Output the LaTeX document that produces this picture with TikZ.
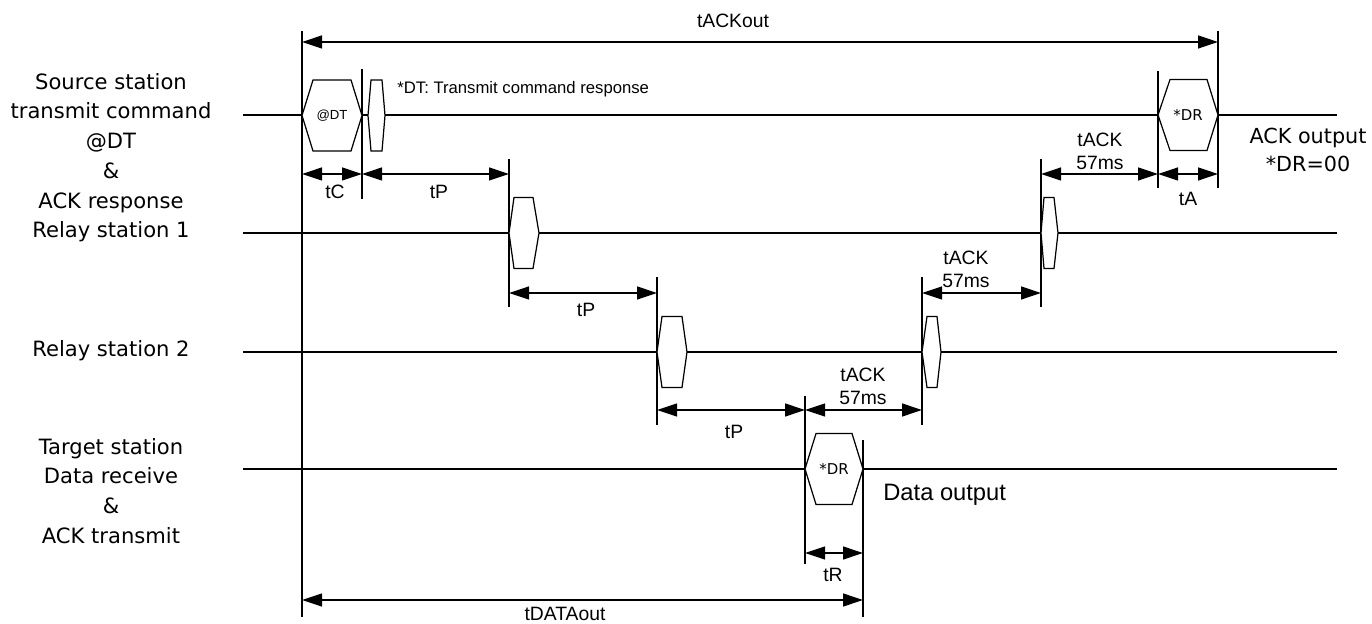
\documentclass[tikz,border=0pt]{standalone}
\usepackage{fontspec}
\setmainfont{Liberation Sans}
\newfontfamily\gothic{DejaVu Sans}
\usetikzlibrary{arrows.meta,positioning}
\tikzset{
  sig/.style={line width=0.8pt},
  frame/.style={draw, line width=0.7pt, fill=white, line join=miter},
  tickln/.style={line width=0.7pt},
  dimarr/.style={{Triangle[length=0.4cm,width=0.26cm]}-{Triangle[length=0.4cm,width=0.26cm]}, line width=0.7pt},
  tlbl/.style={font=\fontsize{11}{13}\selectfont, inner sep=0pt},
  station/.style={font=\gothic\fontsize{12}{17}\selectfont, align=center, inner sep=0pt},
  pktlbl/.style={font=\fontsize{7.5}{9}\selectfont, inner sep=0pt},
  drlbl/.style={font=\gothic\fontsize{8.5}{10}\selectfont, inner sep=0pt}
}
% packet: name, left tip, top left, top right, right tip, line y
\newcommand{\pkt}[6]{%
  \draw[frame] (#2,#6) -- (#3,#6-35.5) -- (#4,#6-35.5) -- (#5,#6) -- (#4,#6+35.5) -- (#3,#6+35.5) -- cycle;
  \coordinate (#1) at ({(#2+#5)/2},#6);}

\begin{document}
\begin{tikzpicture}[x=0.02cm,y=-0.02cm]
  \useasboundingbox (0,0) rectangle (1372,624);
  % station labels
  \node[station] (srclbl) at (111,143) {Source station\\transmit command\\@DT\\\&\\ACK response};
  \node[station] (rel1lbl) at (111,232) {Relay station 1};
  \node[station] (rel2lbl) at (111,351) {Relay station 2};
  \node[station] (tgtlbl) at (111,491) {Target station\\Data receive\\\&\\ACK transmit};
  % signal lines
  \foreach \name/\y in {src/115,rel1/233,rel2/352,tgt/469}{
    \coordinate (\name0) at (243,\y);
    \coordinate (\name1) at (1337,\y);
    \draw[sig] (\name0) -- (\name1);
  }
  % time marks
  \foreach \x/\ya/\yb in {302/31/617,362/69/199,509/159/307,657/277/425,805/396/564,
                          863/440/617,922/277/425,1041/159/307,1158/71/188,1218/31/188}{
    \draw[tickln] (\x,\ya) -- (\x,\yb);
  }
  % packets
  \pkt{dt}{302}{313}{351}{362}{115.5}
  \pkt{dtr}{368}{371}{382}{385}{115.5}
  \pkt{drsrc}{1158}{1170}{1207}{1218}{115}
  \pkt{p1a}{509}{514}{533}{539}{233}
  \pkt{p1b}{1041}{1044}{1054}{1058}{233}
  \pkt{p2a}{657}{662}{682}{687}{352}
  \pkt{p2b}{922}{927}{937}{941}{352}
  \pkt{drtgt}{805}{816}{852}{863}{469}
  \node[pktlbl] (dtlbl) at (dt) {@DT};
  \node[drlbl] (drsrclbl) at (drsrc) {*DR};
  \node[drlbl] (drtgtlbl) at (drtgt) {*DR};
  % time spans
  \draw[dimarr] (302,42) -- (1218,42);
  \node[tlbl] (tackout) at (733,21) {tACKout};
  \draw[dimarr] (302,174) -- (362,174);
  \node[tlbl] (tc) at (335,192) {tC};
  \draw[dimarr] (362,174) -- (509,174);
  \node[tlbl] (tp1) at (439,192) {tP};
  \draw[dimarr] (509,293) -- (657,293);
  \node[tlbl] (tp2) at (586,310) {tP};
  \draw[dimarr] (657,410) -- (805,410);
  \node[tlbl] (tp3) at (734,432) {tP};
  \draw[dimarr] (805,410) -- (922,410);
  \node[tlbl, align=center] (tack3) at (863,386) {tACK\\57ms};
  \draw[dimarr] (922,293) -- (1041,293);
  \node[tlbl, align=center] (tack2) at (966,269) {tACK\\57ms};
  \draw[dimarr] (1041,174) -- (1158,174);
  \node[tlbl, align=center] (tack1) at (1100,151) {tACK\\57ms};
  \draw[dimarr] (1158,174) -- (1218,174);
  \node[tlbl] (ta) at (1188,199) {tA};
  \draw[dimarr] (805,553) -- (863,553);
  \node[tlbl] (tr) at (833,575) {tR};
  \draw[dimarr] (302,600) -- (863,600);
  \node[tlbl] (tdataout) at (565,614) {tDATAout};
  % notes
  \node[font=\fontsize{9.5}{11}\selectfont, anchor=west, inner sep=0pt] (note) at (397,89) {*DT: Transmit command response};
  \node[station, font=\gothic\fontsize{11.8}{16}\selectfont] (ackout) at (1308,150) {ACK output\\*DR=00};
  \node[font=\fontsize{13.5}{15}\selectfont, anchor=west, inner sep=0pt] (dataout) at (883,495) {Data output};
\end{tikzpicture}
\end{document}
